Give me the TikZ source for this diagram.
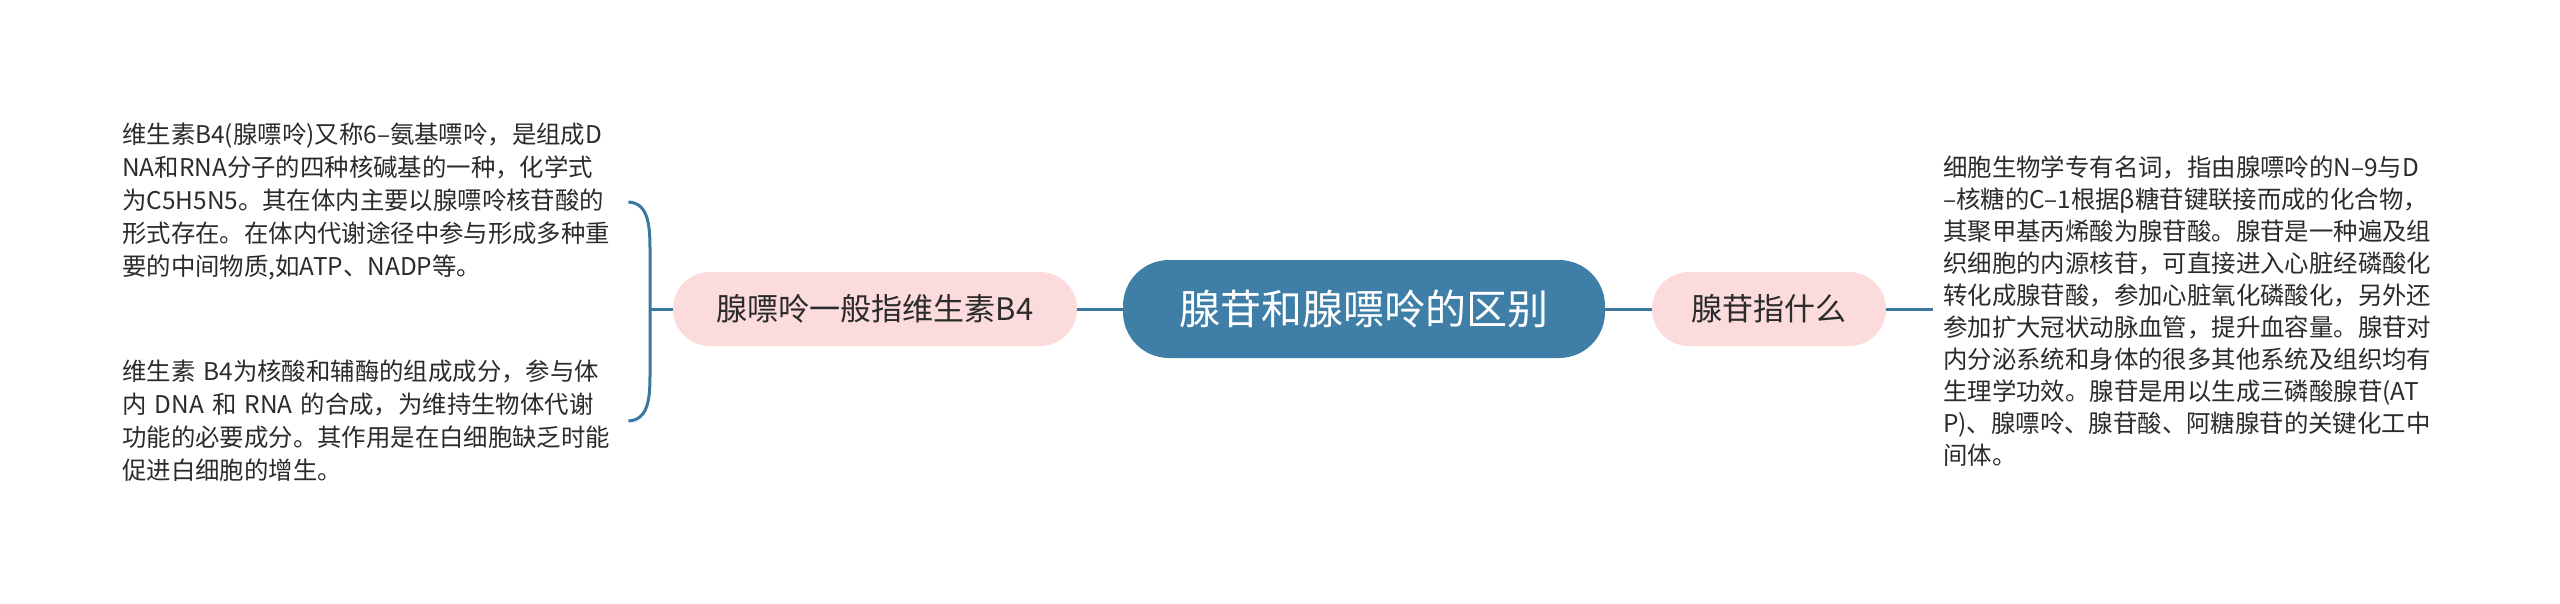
\documentclass[tikz,border=0pt]{standalone}
\usepackage{fontspec}
\setmainfont{Noto Sans CJK SC}
\definecolor{mainblue}{HTML}{3F7EA6}
\definecolor{linkblue}{HTML}{3B78A0}
\definecolor{pinkfill}{HTML}{FBDBDB}
\definecolor{txt}{HTML}{2B2B2B}
\tikzset{
  conn/.style={draw=linkblue, line width=3pt},
  rootbox/.style={fill=mainblue, text=white, rounded corners=46pt, minimum width=482pt, minimum height=98pt, inner sep=0pt, font=\fontsize{41}{48}\selectfont},
  subbox/.style={fill=pinkfill, text=txt, rounded corners=37pt, minimum height=74pt, inner sep=0pt, font=\fontsize{31}{36}\selectfont},
  leaftext/.style={text=txt, align=left, inner sep=0pt, font=\fontsize{24.4}{33}\selectfont}
}
\begin{document}
\begin{tikzpicture}[x=1pt, y=-1pt]
\useasboundingbox[fill=white] (0,0) rectangle (2560,603);
\node[rootbox] (root) at (1364,309) {腺苷和腺嘌呤的区别};
\node[subbox, minimum width=404pt] (left) at (875,309) {腺嘌呤一般指维生素B4};
\node[subbox, minimum width=234pt] (right) at (1769,309) {腺苷指什么};
\node[leaftext, text width=506pt, anchor=west] (t1) at (122,202) {维生素B4(腺嘌呤)又称6–氨基嘌呤，是组成D\\NA和RNA分子的四种核碱基的一种，化学式\\为C5H5N5。其在体内主要以腺嘌呤核苷酸的\\形式存在。在体内代谢途径中参与形成多种重\\要的中间物质,如ATP、NADP等。};
\node[leaftext, text width=506pt, anchor=west] (t2) at (122,421) {维生素 B4为核酸和辅酶的组成成分，参与体\\内 DNA 和 RNA 的合成，为维持生物体代谢\\功能的必要成分。其作用是在白细胞缺乏时能\\促进白细胞的增生。};
\node[leaftext, text width=500pt, anchor=west, inner xsep=10pt, font=\fontsize{24.4}{32}\selectfont] (t3) at (1933,311) {细胞生物学专有名词，指由腺嘌呤的N–9与D\\–核糖的C–1根据β糖苷键联接而成的化合物，\\其聚甲基丙烯酸为腺苷酸。腺苷是一种遍及组\\织细胞的内源核苷，可直接进入心脏经磷酸化\\转化成腺苷酸，参加心脏氧化磷酸化，另外还\\参加扩大冠状动脉血管，提升血容量。腺苷对\\内分泌系统和身体的很多其他系统及组织均有\\生理学功效。腺苷是用以生成三磷酸腺苷(AT\\P)、腺嘌呤、腺苷酸、阿糖腺苷的关键化工中\\间体。};
\coordinate (junc) at (650,309);
\draw[conn] (root.west) -- (left.east);
\draw[conn] (root.east) -- (right.west);
\draw[conn] (right.east) -- (right.east -| t3.west);
\draw[conn] (left.west) -- (junc);
\draw[conn] (t1.east) .. controls (647,203) and (650,222) .. (650,248) -- (junc);
\draw[conn] (junc) -- (650,376) .. controls (650,402) and (647,420) .. (t2.east);
\end{tikzpicture}
\end{document}
